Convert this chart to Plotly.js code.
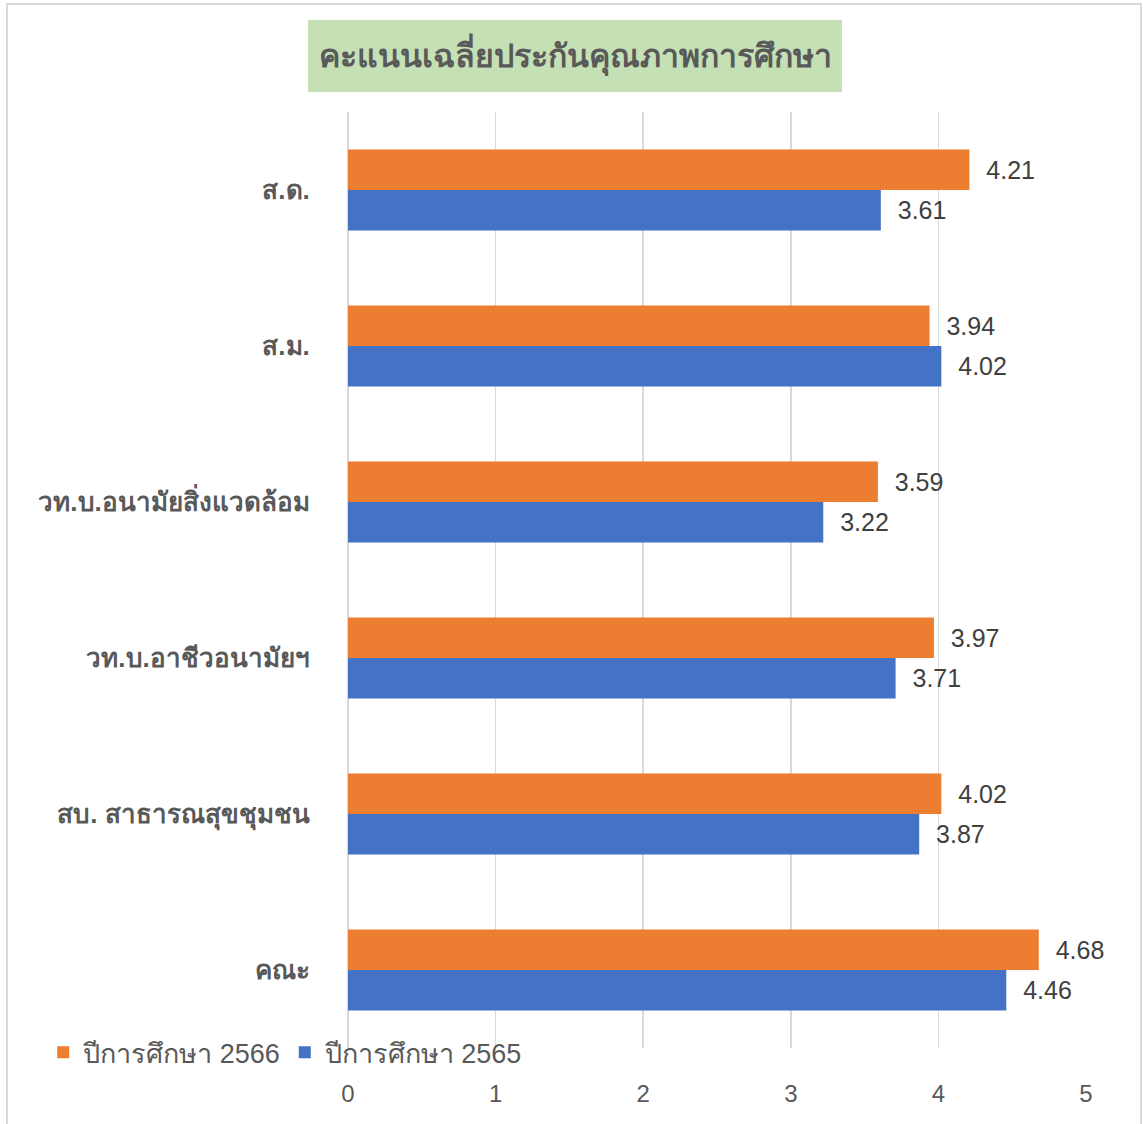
<!DOCTYPE html>
<html>
<head>
<meta charset="utf-8">
<script src="https://cdn.plot.ly/plotly-3.0.1.min.js"></script>
<style>html,body{margin:0;padding:0;background:#fff;}#chart{width:1143px;height:1124px;}</style>
</head>
<body>
<div id="chart"></div>
<script>
const categories = ["ส.ด.", "ส.ม.", "วท.บ.อนามัยสิ่งแวดล้อม", "วท.บ.อาชีวอนามัยฯ", "สบ. สาธารณสุขชุมชน", "คณะ"];
const values2566 = [4.21, 3.94, 3.59, 3.97, 4.02, 4.68];
const values2565 = [3.61, 4.02, 3.22, 3.71, 3.87, 4.46];
const seriesNames = ["ปีการศึกษา 2566", "ปีการศึกษา 2565"];
const titleText = "คะแนนเฉลี่ยประกันคุณภาพการศึกษา";
const xTicks = [0, 1, 2, 3, 4, 5];

const FONT = "Liberation Sans, Arial, Noto Sans, sans-serif";
const labelFont = {family: FONT, size: 25, color: "#404040"};

const traces = [
  {type: "bar", orientation: "h", name: seriesNames[0], y: categories, x: values2566,
   marker: {color: "#ed7d31"}, text: values2566.map(v => "\u00a0\u00a0" + v.toFixed(2)),
   textposition: "outside", textfont: labelFont, cliponaxis: false, hoverinfo: "x+y"},
  {type: "bar", orientation: "h", name: seriesNames[1], y: categories, x: values2565,
   marker: {color: "#4472c4"}, text: values2565.map(v => "\u00a0\u00a0" + v.toFixed(2)),
   textposition: "outside", textfont: labelFont, cliponaxis: false, hoverinfo: "x+y"}
];

const layout = {
  width: 1143, height: 1124,
  margin: {l: 348, r: 57, t: 112, b: 76},
  paper_bgcolor: "#ffffff", plot_bgcolor: "#ffffff",
  barmode: "group", bargap: 0.48, bargroupgap: 0,
  font: {family: FONT, color: "#595959"},
  title: {text: titleText, font: {family: FONT, size: 32, color: "#595959", weight: "bold"},
          x: 575 / 1143, xanchor: "center", xref: "container",
          y: 1 - 56 / 1124, yanchor: "middle", yref: "container"},
  xaxis: {range: [0, 5], tickvals: xTicks, ticktext: xTicks.map(String),
          showgrid: true, gridcolor: "#d9d9d9", gridwidth: 1.5,
          zeroline: true, zerolinecolor: "#d9d9d9", zerolinewidth: 1.5,
          showline: false, ticks: "outside", ticklen: 24, tickcolor: "rgba(0,0,0,0)",
          tickfont: {family: FONT, size: 24, color: "#595959"}, fixedrange: true},
  yaxis: {autorange: "reversed", showgrid: false, zeroline: false, showline: false,
          ticks: "outside", ticklen: 32, tickcolor: "rgba(0,0,0,0)",
          tickfont: {family: FONT, size: 26, color: "#595959", weight: "bold"}, fixedrange: true},
  showlegend: true,
  legend: {orientation: "h", x: -0.413, xanchor: "left", y: -0.005, yanchor: "middle",
           font: {family: FONT, size: 27, color: "#595959"}, bgcolor: "rgba(255,255,255,0)",
           traceorder: "normal"},
  shapes: [
    {type: "rect", xref: "paper", yref: "paper", x0: -0.462, x1: 1.0745, y0: -0.09, y1: 1.1154,
     line: {color: "#d9d9d9", width: 2}, fillcolor: "rgba(0,0,0,0)", layer: "below"},
    {type: "rect", xref: "paper", yref: "paper", x0: -0.0542, x1: 0.6694, y0: 1.0214, y1: 1.0983,
     line: {width: 0}, fillcolor: "#c5e0b4", layer: "below"}
  ]
};

Plotly.newPlot("chart", traces, layout, {displayModeBar: false, staticPlot: true});
</script>
</body>
</html>
